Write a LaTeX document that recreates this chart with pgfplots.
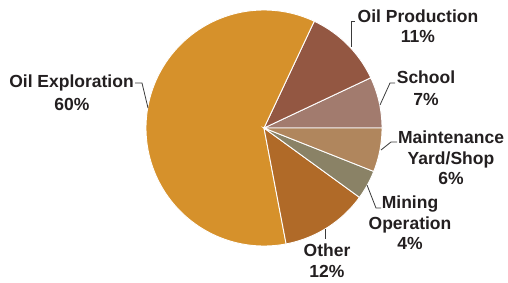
\documentclass[border=0pt]{standalone}
\usepackage{pgfplots}
\pgfplotsset{compat=1.18}
\usepackage{fontspec}
\setmainfont{Liberation Sans}
\definecolor{cExpl}{HTML}{D6912B}
\definecolor{cProd}{HTML}{935742}
\definecolor{cSchool}{HTML}{A27B6E}
\definecolor{cMaint}{HTML}{B0865D}
\definecolor{cMining}{HTML}{8A8266}
\definecolor{cOther}{HTML}{B06A28}
\definecolor{txt}{HTML}{231F20}
\definecolor{lead}{HTML}{3A3A3A}
\begin{document}
\begin{tikzpicture}
\begin{axis}[name=ax, at={(0,0)}, anchor=south west,
  scale only axis, width=508pt, height=282pt,
  xmin=0, xmax=508, ymin=0, ymax=282,
  hide axis, clip=false]
% shares (%): School 7, Oil Production 11, Oil Exploration 60, Other 12, Mining 4, Maintenance 6
% angles = 3.6 * cumulative share, counter-clockwise from east
\addplot[fill=cSchool, draw=white, line width=0.9pt, domain=0:25.2, samples=30, variable=\t]
  ({264+118*cos(\t)},{154+118*sin(\t)}) -- (axis cs:264,154) -- cycle;
\addplot[fill=cProd, draw=white, line width=0.9pt, domain=25.2:64.8, samples=40, variable=\t]
  ({264+118*cos(\t)},{154+118*sin(\t)}) -- (axis cs:264,154) -- cycle;
\addplot[fill=cExpl, draw=white, line width=0.9pt, domain=64.8:280.8, samples=150, variable=\t]
  ({264+118*cos(\t)},{154+118*sin(\t)}) -- (axis cs:264,154) -- cycle;
\addplot[fill=cOther, draw=white, line width=0.9pt, domain=280.8:324, samples=40, variable=\t]
  ({264+118*cos(\t)},{154+118*sin(\t)}) -- (axis cs:264,154) -- cycle;
\addplot[fill=cMining, draw=white, line width=0.9pt, domain=324:338.4, samples=20, variable=\t]
  ({264+118*cos(\t)},{154+118*sin(\t)}) -- (axis cs:264,154) -- cycle;
\addplot[fill=cMaint, draw=white, line width=0.9pt, domain=338.4:360, samples=25, variable=\t]
  ({264+118*cos(\t)},{154+118*sin(\t)}) -- (axis cs:264,154) -- cycle;
% leader lines
\draw[lead, line width=0.8pt] (axis cs:135,199) -- (axis cs:142,199) -- (axis cs:148,174);
\draw[lead, line width=0.8pt] (axis cs:355,261) -- (axis cs:351,261) -- (axis cs:351,235);
\draw[lead, line width=0.8pt] (axis cs:395,199) -- (axis cs:390,199) -- (axis cs:380,177);
\draw[lead, line width=0.8pt] (axis cs:397,140) -- (axis cs:391,140) -- (axis cs:381,132);
\draw[lead, line width=0.8pt] (axis cs:367,97) -- (axis cs:376,74) -- (axis cs:381,74);
\draw[lead, line width=0.8pt] (axis cs:325,53) -- (axis cs:325,43);
% labels
\tikzset{lbl/.style={anchor=base, inner sep=0pt, text=txt, font=\fontsize{17.5}{20}\selectfont\bfseries}}
\node[lbl] at (axis cs:71.5,195) {Oil Exploration};
\node[lbl] at (axis cs:72,172) {60\%};
\node[lbl] at (axis cs:418,260) {Oil Production};
\node[lbl] at (axis cs:418,240) {11\%};
\node[lbl] at (axis cs:426,199) {School};
\node[lbl] at (axis cs:426,177) {7\%};
\node[lbl] at (axis cs:451,139) {Maintenance};
\node[lbl] at (axis cs:451,118) {Yard/Shop};
\node[lbl] at (axis cs:451,98) {6\%};
\node[lbl] at (axis cs:410,74) {Mining};
\node[lbl] at (axis cs:410,53) {Operation};
\node[lbl] at (axis cs:410,33) {4\%};
\node[lbl] at (axis cs:327,26) {Other};
\node[lbl] at (axis cs:327,5) {12\%};
\end{axis}
\pgfresetboundingbox
\path (ax.south west) rectangle (ax.north east);
\end{tikzpicture}
\end{document}
